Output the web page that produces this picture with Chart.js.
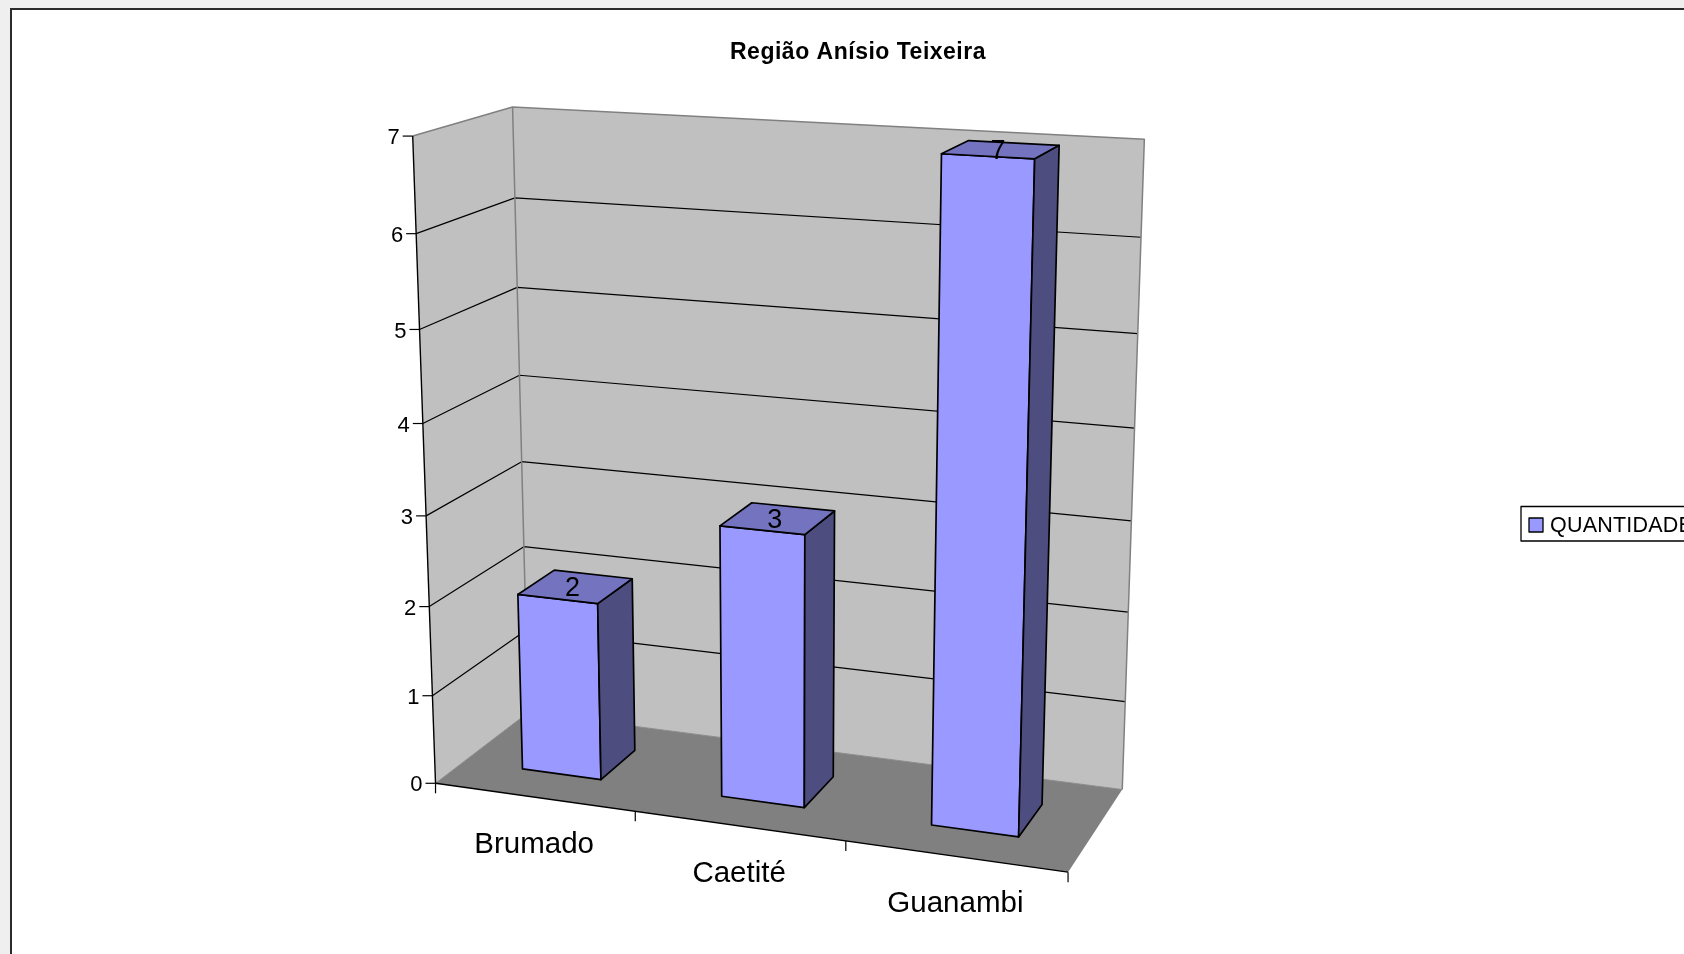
<!DOCTYPE html>
<html>
<head>
<meta charset="utf-8">
<title>Região Anísio Teixeira</title>
<script src="https://cdn.jsdelivr.net/npm/chart.js@4"></script>
<style>
  html, body { margin: 0; height: 100%; overflow: hidden; background: #fff; }
  #edge { position: absolute; left: 0; top: 0; width: 1684px; height: 954px; background: #efefef; }
  #frame { position: absolute; left: 10px; top: 8px; width: 1700px; height: 1000px; background: #fff; border: 2px solid #2b2b2b; box-sizing: border-box; }
  canvas { position: absolute; left: 0; top: 0; }
</style>
</head>
<body>
<div id="edge"></div>
<div id="frame"></div>
<canvas id="grafico" width="1684" height="954"></canvas>
<script>
// dados
const categorias = ['Brumado', 'Caetité', 'Guanambi'];
const quantidade = [2, 3, 7];
const nomeSerie = 'QUANTIDADE';
const tituloTexto = 'Região Anísio Teixeira';

const corFrente = '#9999ff';
const corTopo = '#7373bf';
const corLado = '#4d4d80';
const corParede = '#c0c0c0';
const corPiso = '#808080';

// cantos da caixa 3D na tela: [u, v, d, x, y]  (u largura, v altura, d profundidade)
const cantos = [
  [0, 0, 0, 435.3, 783.7],
  [1, 0, 0, 1068.6, 871.3],
  [0, 1, 0, 412.4, 136.5],
  [0, 0, 1, 528.3, 712],
  [1, 0, 1, 1121.8, 790.5],
  [0, 1, 1, 512.9, 106.7],
  [1, 1, 1, 1144.3, 139]
];
const profFrente = 0.3;
const profFundo = 0.7;

// resolve a camera (11 parametros) por minimos quadrados
function calibrar(pts) {
  const A = Array.from({ length: 11 }, () => new Array(12).fill(0));
  const soma = (l, b) => {
    for (let i = 0; i < 11; i++) {
      for (let j = 0; j < 11; j++) A[i][j] += l[i] * l[j];
      A[i][11] += l[i] * b;
    }
  };
  pts.forEach(([u, v, d, px, py]) => {
    const x = px / 1000, y = py / 1000;
    soma([u, v, d, 1, 0, 0, 0, 0, -x * u, -x * v, -x * d], x);
    soma([0, 0, 0, 0, u, v, d, 1, -y * u, -y * v, -y * d], y);
  });
  for (let c = 0; c < 11; c++) {
    let m = c;
    for (let r = c + 1; r < 11; r++) if (Math.abs(A[r][c]) > Math.abs(A[m][c])) m = r;
    [A[c], A[m]] = [A[m], A[c]];
    for (let r = 0; r < 11; r++) {
      if (r === c) continue;
      const f = A[r][c] / A[c][c];
      for (let k = c; k < 12; k++) A[r][k] -= f * A[c][k];
    }
  }
  return A.map((l, i) => l[11] / l[i]);
}
const cam = calibrar(cantos);
function proj(u, v, d) {
  const w = cam[8] * u + cam[9] * v + cam[10] * d + 1;
  return [
    1000 * (cam[0] * u + cam[1] * v + cam[2] * d + cam[3]) / w,
    1000 * (cam[4] * u + cam[5] * v + cam[6] * d + cam[7]) / w
  ];
}

function poligono(ctx, pts, fill, stroke, lw) {
  ctx.beginPath();
  pts.forEach((p, i) => i ? ctx.lineTo(p[0], p[1]) : ctx.moveTo(p[0], p[1]));
  ctx.closePath();
  if (fill) { ctx.fillStyle = fill; ctx.fill(); }
  if (stroke) { ctx.strokeStyle = stroke; ctx.lineWidth = lw; ctx.stroke(); }
}
function linha(ctx, pts, cor, lw) {
  ctx.beginPath();
  pts.forEach((p, i) => i ? ctx.lineTo(p[0], p[1]) : ctx.moveTo(p[0], p[1]));
  ctx.strokeStyle = cor;
  ctx.lineWidth = lw;
  ctx.stroke();
}

// desenha as barras e eixos em perspectiva a partir das escalas do Chart.js
const barras3d = {
  id: 'barras3d',
  beforeDraw(chart) { chart.ctx.letterSpacing = '0.5px'; },
  afterDatasetsDraw(chart) {
    const ctx = chart.ctx;
    const area = chart.chartArea;
    const sx = chart.scales.x, sy = chart.scales.y;
    const U = px => (px - area.left) / area.width;
    const V = py => (area.bottom - py) / area.height;
    ctx.save();
    ctx.letterSpacing = '0px';
    ctx.lineJoin = 'round';

    // paredes e piso
    poligono(ctx, [proj(0, 0, 0), proj(0, 1, 0), proj(0, 1, 1), proj(0, 0, 1)], corParede);
    poligono(ctx, [proj(0, 0, 1), proj(0, 1, 1), proj(1, 1, 1), proj(1, 0, 1)], corParede);
    poligono(ctx, [proj(0, 0, 0), proj(0, 0, 1), proj(1, 0, 1), proj(1, 0, 0)], corPiso);

    // linhas de grade
    sy.ticks.forEach(t => {
      const v = V(sy.getPixelForValue(t.value));
      if (t.value > 0 && t.value < sy.max) {
        linha(ctx, [proj(0, v, 0), proj(0, v, 1), proj(1, v, 1)], '#000', 1.2);
      }
    });
    linha(ctx, [proj(0, 1, 0), proj(0, 1, 1), proj(1, 1, 1), proj(1, 0, 1)], '#808080', 1.5);
    linha(ctx, [proj(0, 1, 1), proj(0, 0, 1)], '#808080', 1.5);
    linha(ctx, [proj(0, 0, 0), proj(0, 0, 1), proj(1, 0, 1)], '#8c8c8c', 1);

    // eixo de valores
    linha(ctx, [proj(0, 0, 0), proj(0, 1, 0)], '#000', 1.4);
    ctx.font = '22px "Liberation Sans"';
    ctx.fillStyle = '#000';
    ctx.textAlign = 'right';
    ctx.textBaseline = 'middle';
    sy.ticks.forEach(t => {
      const p = proj(0, V(sy.getPixelForValue(t.value)), 0);
      linha(ctx, [[p[0] - 10, p[1]], p], '#000', 1.2);
      ctx.fillText(t.label, p[0] - 13, p[1] + 2);
    });

    // eixo de categorias
    linha(ctx, [proj(0, 0, 0), proj(1, 0, 0)], '#000', 1.4);
    const nCat = categorias.length;
    for (let i = 0; i <= nCat; i++) {
      const p = proj(i / nCat, 0, 0);
      linha(ctx, [p, [p[0], p[1] + 10]], '#000', 1.2);
    }
    ctx.font = '29.5px "Liberation Sans"';
    ctx.textAlign = 'center';
    categorias.forEach((c, i) => {
      const p = proj(U(sx.getPixelForValue(i)), 0, 0);
      ctx.fillText(c, p[0], p[1] + 48);
    });

    // barras
    chart.getDatasetMeta(0).data.forEach((el, i) => {
      const u0 = U(el.x - el.width / 2), u1 = U(el.x + el.width / 2);
      const vTop = V(el.y), vBase = V(el.base);
      const d0 = profFrente, d1 = profFundo;
      poligono(ctx, [proj(u0, vBase, d0), proj(u1, vBase, d0), proj(u1, vTop, d0), proj(u0, vTop, d0)], corFrente, '#000', 1.7);
      poligono(ctx, [proj(u1, vBase, d0), proj(u1, vBase, d1), proj(u1, vTop, d1), proj(u1, vTop, d0)], corLado, '#000', 1.7);
      poligono(ctx, [proj(u0, vTop, d0), proj(u1, vTop, d0), proj(u1, vTop, d1), proj(u0, vTop, d1)], corTopo, '#000', 1.7);
      const r = proj((u0 + u1) / 2, vTop, (d0 + d1) / 2);
      ctx.font = '27px "Liberation Sans"';
      ctx.textAlign = 'center';
      ctx.fillStyle = '#000';
      ctx.fillText(String(quantidade[i]), r[0] - 3, r[1] + 2);
    });

    // legenda
    linha(ctx, [[1700, 506.5], [1521, 506.5], [1521, 541], [1700, 541]], '#000', 1.3);
    poligono(ctx, [[1529, 518], [1543, 518], [1543, 532], [1529, 532]], corFrente, '#000', 1.3);
    ctx.font = '21.5px "Liberation Sans"';
    ctx.letterSpacing = '0.2px';
    ctx.textAlign = 'left';
    ctx.fillStyle = '#000';
    ctx.fillText(chart.data.datasets[0].label, 1550, 526);
    ctx.restore();
  }
};

new Chart(document.getElementById('grafico'), {
  type: 'bar',
  plugins: [barras3d],
  data: {
    labels: categorias,
    datasets: [{
      label: nomeSerie,
      data: quantidade,
      backgroundColor: 'transparent',
      barPercentage: 0.4,
      categoryPercentage: 1
    }]
  },
  options: {
    responsive: false,
    animation: false,
    devicePixelRatio: 1,
    layout: { padding: { left: 32 } },
    scales: {
      x: { display: false },
      y: { display: false, min: 0, max: 7, ticks: { stepSize: 1 } }
    },
    plugins: {
      legend: { display: false },
      tooltip: { enabled: false },
      title: {
        display: true,
        text: tituloTexto,
        fullSize: false,
        color: '#000',
        font: { family: '"Liberation Sans"', size: 23, weight: 'bold' },
        padding: { top: 39, bottom: 0 }
      }
    }
  }
});
</script>
</body>
</html>
